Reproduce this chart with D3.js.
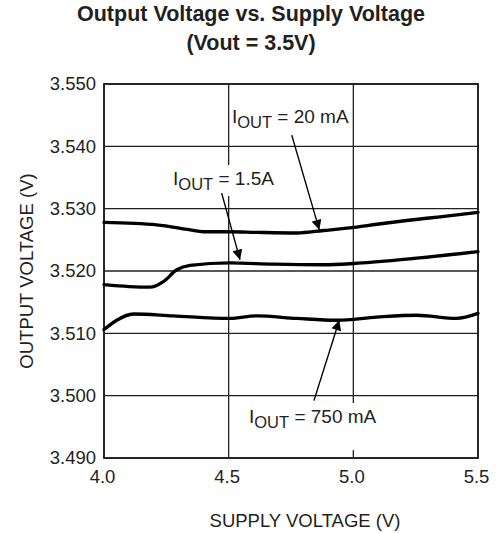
<!DOCTYPE html>
<html>
<head>
<meta charset="utf-8">
<script src="https://cdn.jsdelivr.net/npm/d3@7/dist/d3.min.js"></script>
<style>
  html, body { margin: 0; padding: 0; background: #fff; }
  svg { display: block; font-family: "Liberation Sans", Arial, Helvetica, sans-serif; }
</style>
</head>
<body>
<svg id="chart" width="498" height="533"></svg>
<script>
// ---- data ----
const titleLines = ["Output Voltage vs. Supply Voltage", "(Vout = 3.5V)"];
const xTitle = "SUPPLY VOLTAGE (V)";
const yTitle = "OUTPUT VOLTAGE (V)";
const xTicks = [4.0, 4.5, 5.0, 5.5];
const yTicks = [3.490, 3.500, 3.510, 3.520, 3.530, 3.540, 3.550];

const x20mA = [4.0, 4.211, 4.345, 4.398, 4.505, 4.612, 4.773, 4.880, 5.003, 5.094, 5.214, 5.348, 5.5];
const y20mA = [3.5278, 3.5274, 3.5266, 3.5263, 3.5263, 3.5262, 3.5261, 3.5265, 3.5270, 3.5275, 3.5281, 3.5287, 3.5294];

const x1500mA = [4.0, 4.10, 4.185, 4.238, 4.292, 4.345, 4.505, 4.679, 4.880, 5.003, 5.214, 5.5];
const y1500mA = [3.5178, 3.5175, 3.5174, 3.5183, 3.5202, 3.5209, 3.5213, 3.5211, 3.5210, 3.5212, 3.5219, 3.5231];

const x750mA = [4.0, 4.051, 4.118, 4.278, 4.505, 4.612, 4.773, 4.933, 5.094, 5.254, 5.414, 5.5];
const y750mA = [3.5106, 3.5121, 3.5131, 3.5128, 3.5124, 3.5128, 3.5124, 3.5121, 3.5126, 3.5129, 3.5124, 3.5132];

const labelNames = ["20 mA", "1.5A", "750 mA"];
const labelAt = [[4.513, 3.5437], [4.277, 3.5338], [4.5816, 3.4956]];
const arrowFrom = [[4.753, 3.5418], [4.472, 3.5325], [4.842, 3.4992]];
const arrowTo = [[4.8635, 3.5266], [4.5455, 3.5218], [4.9437, 3.5121]];

// ---- layout ----
const svg = d3.select("#chart");
const M = { left: 104, right: 478, top: 84, bottom: 458 };
const ink = "#231f20";

const x = d3.scaleLinear().domain([4.0, 5.5]).range([M.left, M.right]);
const y = d3.scaleLinear().domain([3.490, 3.550]).range([M.bottom, M.top]);

// title
svg.append("g").selectAll("text").data(titleLines).join("text")
  .attr("x", 251).attr("y", (d, i) => i === 0 ? 21 : 50)
  .attr("text-anchor", "middle")
  .attr("font-weight", "bold").attr("font-size", 21.5)
  .attr("fill", ink).text(d => d);

// grid
const grid = svg.append("g").attr("stroke", ink).attr("stroke-width", 1.3);
grid.selectAll("line.v").data(xTicks).join("line").attr("class", "v")
  .attr("x1", d => x(d)).attr("x2", d => x(d))
  .attr("y1", M.top).attr("y2", M.bottom);
grid.selectAll("line.h").data(yTicks).join("line").attr("class", "h")
  .attr("y1", d => y(d)).attr("y2", d => y(d))
  .attr("x1", M.left).attr("x2", M.right);

// frame
svg.append("rect").attr("x", M.left).attr("y", M.top)
  .attr("width", M.right - M.left).attr("height", M.bottom - M.top)
  .attr("fill", "none").attr("stroke", ink).attr("stroke-width", 1.8);

// axes (labels only, via d3 axis)
const xAxis = svg.append("g").attr("transform", `translate(-2,${M.bottom})`)
  .call(d3.axisBottom(x).tickValues(xTicks).tickFormat(d3.format(".1f")).tickSize(0).tickPadding(0));
xAxis.select(".domain").remove();
xAxis.selectAll("text").attr("font-size", 18.5).attr("fill", ink)
  .attr("font-family", "Liberation Sans, Arial, sans-serif").attr("dy", null).attr("y", 25);

const yAxis = svg.append("g").attr("transform", `translate(96,0)`)
  .call(d3.axisLeft(y).tickValues(yTicks).tickFormat(d3.format(".3f")).tickSize(0).tickPadding(0));
yAxis.select(".domain").remove();
yAxis.selectAll("text").attr("font-size", 18.5).attr("fill", ink)
  .attr("font-family", "Liberation Sans, Arial, sans-serif");

// axis titles
svg.append("text").attr("x", 305).attr("y", 527).attr("text-anchor", "middle")
  .attr("font-size", 18.5).attr("fill", ink).text(xTitle);
svg.append("text").attr("transform", "translate(33,271) rotate(-90)")
  .attr("text-anchor", "middle").attr("font-size", 18.5).attr("fill", ink).text(yTitle);

// labels with white backgrounds
const pads = [[0, 0, 0, 0], [3, 3, 3, 3], [3, 3, 3, 19]]; // left, right, top, bottom
const lblG = svg.append("g");
labelNames.forEach((name, i) => {
  const g = lblG.append("g");
  const rect = g.append("rect").attr("fill", "#fff");
  const t = g.append("text").attr("x", x(labelAt[i][0])).attr("y", y(labelAt[i][1]))
    .attr("font-size", 19).attr("fill", ink);
  t.append("tspan").text("I");
  t.append("tspan").attr("font-size", 16.5).attr("dy", 5).text("OUT");
  t.append("tspan").attr("dy", -5).text(" = " + name);
  const b = t.node().getBBox();
  const p = pads[i];
  if (i > 0) {
    rect.attr("x", b.x - p[0]).attr("y", b.y - p[2])
      .attr("width", b.width + p[0] + p[1]).attr("height", b.height + p[2] + p[3]);
  } else rect.remove();
});

// curves
const line = d3.line().x(d => x(d[0])).y(d => y(d[1])).curve(d3.curveMonotoneX);
const series = [d3.zip(x20mA, y20mA), d3.zip(x1500mA, y1500mA), d3.zip(x750mA, y750mA)];
svg.append("g").selectAll("path").data(series).join("path")
  .attr("d", line).attr("fill", "none").attr("stroke", "#000")
  .attr("stroke-width", 3.3).attr("stroke-linecap", "round").attr("stroke-linejoin", "round");

// arrows
const defs = svg.append("defs");
defs.append("marker").attr("id", "ah").attr("viewBox", "0 0 10 10")
  .attr("refX", 10).attr("refY", 5).attr("markerUnits", "userSpaceOnUse")
  .attr("markerWidth", 11).attr("markerHeight", 10).attr("orient", "auto")
  .append("path").attr("d", "M0,0 L10,5 L0,10 Z").attr("fill", "#000");
svg.append("g").selectAll("line").data(d3.range(arrowFrom.length)).join("line")
  .attr("x1", i => x(arrowFrom[i][0])).attr("y1", i => y(arrowFrom[i][1]))
  .attr("x2", i => x(arrowTo[i][0])).attr("y2", i => y(arrowTo[i][1]))
  .attr("stroke", "#000").attr("stroke-width", 1.4).attr("marker-end", "url(#ah)");
</script>
</body>
</html>
